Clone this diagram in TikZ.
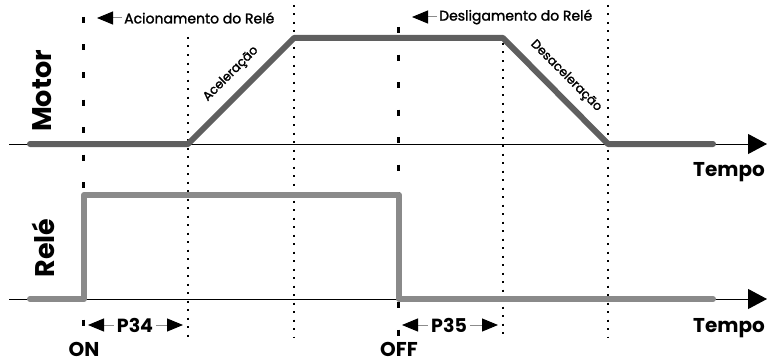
\documentclass[tikz,border=0pt]{standalone}
\usepackage{fontspec}
\setmainfont{Poppins}
\newfontfamily\medio{Poppins}[FakeBold=1.6]
\usetikzlibrary{arrows.meta}

\definecolor{motorcor}{HTML}{5F5F5F}
\definecolor{relecor}{HTML}{8A8A8A}

\begin{document}
\begin{tikzpicture}[
    x=1pt, y=-1pt,
    eixo/.style={line width=1pt, -{Triangle[length=19pt,width=20pt]}},
    sinal/.style={line width=6pt, line cap=round, line join=round},
    marca/.style={line width=3pt, dash pattern=on 6pt off 21.5pt},
    guia/.style={line width=1.2pt, dash pattern=on 2pt off 6.5pt},
    titulo/.style={font=\bfseries\fontsize{27}{27}\selectfont, rotate=90},
    tempo/.style={font=\bfseries\fontsize{20}{20}\selectfont, anchor=base,
                  inner sep=1pt},
    nota/.style={font=\medio\fontsize{14}{14}\selectfont, inner sep=2pt},
    fase/.style={font=\medio\fontsize{12.5}{12.5}\selectfont, inner sep=1pt},
    cota/.style={font=\bfseries\fontsize{19}{19}\selectfont, inner sep=3pt},
    seta/.style={line width=1pt, draw=black!45,
                 -{Triangle[length=16pt,width=13pt,color=black]}}
  ]
  \useasboundingbox (0,0) rectangle (767,361);

  % linhas de referencia
  \foreach \gx/\gy in {188/37, 294/5, 503/43, 608/5}
    \draw[guia] (\gx,\gy) -- (\gx,337);
  \draw[marca] (83,17) -- (83,326);
  \draw[marca] (398,27) -- (398,336);

  % eixos
  \draw[eixo] (9,144) -- (767,144);
  \draw[eixo] (9,299) -- (767,299);

  % curvas
  \draw[sinal, motorcor] (30,144) -- (188,144) -- (294,38) -- (503,38)
                         -- (608,144) -- (713,144);
  \draw[sinal, relecor] (30,299) -- (84,299) -- (84,195) -- (399,195)
                        -- (399,299) -- (713,299);

  % rotulos
  \node[titulo] (motor) at (42,91) {Motor};
  \node[titulo] (rele) at (43,248) {Relé};
  \node[tempo] (tempo1) at (729,176) {Tempo};
  \node[tempo] (tempo2) at (729,332) {Tempo};
  \node[tempo] (on) at (84,356) {ON};
  \node[tempo] (off) at (399,356) {OFF};

  \node[fase, rotate=45] (acel) at (231,74) {Aceleração};
  \node[fase, rotate=-45] (desacel) at (566,76) {Desaceleração};

  \node[nota, anchor=west] (aciona) at (122,18) {Acionamento do Relé};
  \coordinate (aciona-tip) at (97,18);
  \draw[seta] (aciona) -- (aciona-tip);
  \node[nota, anchor=west] (desliga) at (437,17) {Desligamento do Relé};
  \coordinate (desliga-tip) at (412,17);
  \draw[seta] (desliga) -- (desliga-tip);

  % tempos P34 e P35
  \node[cota] (p34) at (135,325) {P34};
  \coordinate (p34-a) at (88,325);
  \coordinate (p34-b) at (183,325);
  \draw[seta] (p34) -- (p34-a);
  \draw[seta] (p34) -- (p34-b);
  \node[cota] (p35) at (449,325) {P35};
  \coordinate (p35-a) at (402,325);
  \coordinate (p35-b) at (498,325);
  \draw[seta] (p35) -- (p35-a);
  \draw[seta] (p35) -- (p35-b);
\end{tikzpicture}
\end{document}
